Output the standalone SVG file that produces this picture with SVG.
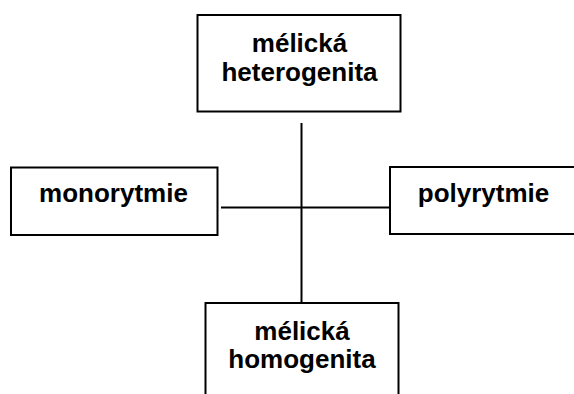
<svg xmlns="http://www.w3.org/2000/svg" width="574" height="394" viewBox="0 0 574 394">
  <style>
    .box { fill: #fff; stroke: #000; stroke-width: 2; }
    .lbl { font-family: "Liberation Sans", Arial, sans-serif; font-weight: bold; font-size: 26px; fill: #000; text-anchor: middle; }
    .edge { stroke: #000; stroke-width: 2; fill: none; }
  </style>
  <rect width="574" height="394" fill="#fff"/>
  <g id="connectors">
    <line class="edge" x1="301.5" y1="123" x2="301.5" y2="303"/>
    <line class="edge" x1="221" y1="207.5" x2="390" y2="207.5"/>
  </g>
  <g id="node-heterogenita">
    <rect class="box" x="197.5" y="15" width="203" height="96.5"/>
    <text class="lbl" x="299.5" y="52">mélická</text>
    <text class="lbl" x="299.5" y="81">heterogenita</text>
  </g>
  <g id="node-monorytmie">
    <rect class="box" x="11" y="167.5" width="206.5" height="67.5"/>
    <text class="lbl" x="113.5" y="202">monorytmie</text>
  </g>
  <g id="node-polyrytmie">
    <rect class="box" x="390" y="167" width="190" height="67"/>
    <text class="lbl" x="483.5" y="202">polyrytmie</text>
  </g>
  <g id="node-homogenita">
    <rect class="box" x="205.5" y="303" width="193" height="100"/>
    <text class="lbl" x="302" y="340">mélická</text>
    <text class="lbl" x="302" y="368">homogenita</text>
  </g>
</svg>
